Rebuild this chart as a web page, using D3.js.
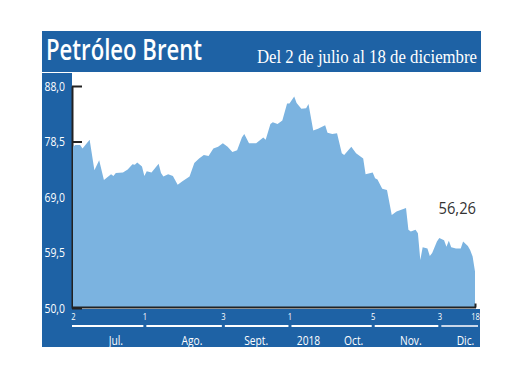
<!DOCTYPE html>
<html>
<head>
<meta charset="utf-8">
<script src="https://cdn.jsdelivr.net/npm/d3@7"></script>
<style>
  body { margin: 0; background: #fff; }
  svg { display: block; }
</style>
</head>
<body>
<div id="chart"></div>
<script>
// Brent daily close
const dates = [
  "2018-07-02","2018-07-03","2018-07-05","2018-07-06","2018-07-09","2018-07-11","2018-07-13","2018-07-15",
  "2018-07-18","2018-07-19","2018-07-20","2018-07-23","2018-07-25","2018-07-27","2018-07-28","2018-07-29",
  "2018-07-31","2018-08-01","2018-08-02","2018-08-04","2018-08-07","2018-08-08","2018-08-09","2018-08-11",
  "2018-08-13","2018-08-15","2018-08-17","2018-08-20","2018-08-22","2018-08-24","2018-08-26","2018-08-28",
  "2018-08-30","2018-09-01","2018-09-03","2018-09-05","2018-09-07","2018-09-09","2018-09-11","2018-09-12",
  "2018-09-14","2018-09-17","2018-09-20","2018-09-21","2018-09-23","2018-09-24","2018-09-26","2018-09-28",
  "2018-09-30","2018-10-01","2018-10-03","2018-10-04","2018-10-06","2018-10-08","2018-10-09","2018-10-11",
  "2018-10-13","2018-10-16","2018-10-17","2018-10-19","2018-10-21","2018-10-23","2018-10-24","2018-10-27",
  "2018-10-29","2018-11-01","2018-11-02","2018-11-05","2018-11-06","2018-11-07","2018-11-09","2018-11-11",
  "2018-11-13","2018-11-15","2018-11-19","2018-11-20","2018-11-21","2018-11-23","2018-11-24","2018-11-25",
  "2018-11-26","2018-11-28","2018-11-29","2018-11-30","2018-12-02","2018-12-03","2018-12-05","2018-12-06",
  "2018-12-07","2018-12-08","2018-12-10","2018-12-12","2018-12-13","2018-12-15","2018-12-16","2018-12-17",
  "2018-12-18"
];
const prices = [
  77.6, 77.9, 77.9, 77.3, 78.8, 73.6, 75.3, 71.9,
  72.9, 72.6, 73.1, 73.2, 73.7, 74.6, 74.5, 74.9,
  74.2, 72.6, 73.4, 73.2, 74.7, 73.1, 72.5, 72.9,
  72.6, 71.1, 71.7, 72.5, 74.8, 75.6, 76.2, 76.0,
  77.3, 77.6, 78.2, 77.6, 76.7, 77.0, 79.2, 79.8,
  78.2, 78.2, 79.2, 78.8, 81.5, 81.8, 81.5, 82.1,
  85.0, 85.0, 86.2, 85.1, 84.1, 84.2, 84.9, 80.4,
  80.7, 81.3, 80.0, 79.8, 79.9, 76.5, 76.2, 77.6,
  76.5, 75.6, 72.9, 73.2, 72.2, 72.0, 70.4, 70.2,
  65.9, 66.5, 67.1, 63.4, 63.1, 63.4, 62.8, 58.2,
  60.4, 60.2, 58.9, 59.4, 61.4, 62.0, 61.6, 60.5,
  61.5, 60.4, 60.2, 60.2, 61.4, 60.6, 59.9, 58.8,
  56.26
];

const yTicks = [50, 59.5, 69, 78.5, 88];
const dayTicks = ["2018-07-02","2018-08-01","2018-09-03","2018-10-01","2018-11-05","2018-12-03","2018-12-18"];
const dayTickLabels = ["2","1","3","1","5","3","18"];
const monthLabels = ["Jul.","Ago.","Sept.","2018","Oct.","Nov.","Dic."];
const monthLabelDates = ["2018-07-20","2018-08-21","2018-09-17","2018-10-09","2018-10-28","2018-11-21","2018-12-14"];
const title = "Petróleo Brent";
const subtitle = "Del 2 de julio al 18 de diciembre";
const lastLabel = "56,26";

const parse = d3.timeParse("%Y-%m-%d");
const data = dates.map((d, i) => ({ date: parse(d), value: prices[i] }));

const W = 520, H = 390;
const margin = { top: 86, right: 45, bottom: 82, left: 73 };
const width = W - margin.left - margin.right;
const height = H - margin.top - margin.bottom;

const frameBlue = "#1e62a5";
const areaBlue = "#7bb3e0";
const sans = "'Open Sans', sans-serif";

// squeeze text horizontally, the original uses a condensed face
function condense(sel, k) {
  sel.each(function () {
    const w = this.getComputedTextLength();
    d3.select(this).attr("textLength", w * k).attr("lengthAdjust", "spacingAndGlyphs");
  });
}

const svg = d3.select("#chart")
  .append("svg")
  .attr("width", W)
  .attr("height", H);

// blue frame: title bar, left column, bottom strip
svg.append("rect").attr("x", 42).attr("y", 31).attr("width", 439).attr("height", 41).attr("fill", frameBlue);
svg.append("rect").attr("x", 42).attr("y", 73).attr("width", 30).attr("height", 274).attr("fill", frameBlue);
svg.append("rect").attr("x", 42).attr("y", 309).attr("width", 438).attr("height", 38).attr("fill", frameBlue);

svg.append("text")
  .attr("x", 46).attr("y", 60)
  .attr("fill", "#fff")
  .style("font-family", sans)
  .style("font-weight", 600)
  .style("font-size", "28px")
  .attr("textLength", 156)
  .attr("lengthAdjust", "spacingAndGlyphs")
  .text(title);

svg.append("text")
  .attr("x", 477).attr("y", 63)
  .attr("text-anchor", "end")
  .attr("fill", "#fff")
  .style("font-family", "'Liberation Serif', serif")
  .style("font-size", "18.5px")
  .attr("textLength", 220)
  .attr("lengthAdjust", "spacingAndGlyphs")
  .text(subtitle);

const g = svg.append("g")
  .attr("transform", `translate(${margin.left},${margin.top})`);

const x = d3.scaleTime()
  .domain([parse(dates[0]), parse(dates[dates.length - 1])])
  .range([0, width]);

const y = d3.scaleLinear()
  .domain([50, 88])
  .range([height, 0]);

// y axis (ticks point inward, area covers the lower ones)
const yAxis = g.append("g")
  .attr("transform", "translate(-1,0)")
  .call(d3.axisLeft(y)
    .tickValues(yTicks)
    .tickSizeInner(-10)
    .tickSizeOuter(0)
    .tickPadding(7)
    .tickFormat(d => d.toFixed(1).replace(".", ",")));
yAxis.select(".domain").attr("stroke", "#222").attr("stroke-width", 2);
yAxis.selectAll(".tick line").attr("stroke", "#222").attr("stroke-width", 2);
yAxis.selectAll(".tick text")
  .attr("fill", "#fff")
  .style("font-family", sans)
  .style("font-size", "13px")
  .call(condense, 0.8);

// area
g.append("path")
  .datum(data)
  .attr("fill", areaBlue)
  .attr("d", d3.area()
    .x(d => x(d.date))
    .y0(y(50))
    .y1(d => y(d.value)));

// x axis line with the small end tick
const xAxis = g.append("g")
  .attr("transform", `translate(0,${height - 0.5})`)
  .call(d3.axisBottom(x)
    .tickValues([parse(dates[dates.length - 1])])
    .tickSizeInner(-4)
    .tickSizeOuter(0)
    .tickFormat(""));
xAxis.select(".domain").attr("stroke", "#222").attr("stroke-width", 2)
  .attr("d", `M-1,0H${width + 1}`);
xAxis.selectAll(".tick line").attr("stroke", "#222").attr("stroke-width", 2);

// day labels in the bottom strip
const dayAxis = g.append("g")
  .attr("transform", `translate(0,${height + 5})`)
  .call(d3.axisBottom(x)
    .tickValues(dayTicks.map(parse))
    .tickSize(0)
    .tickPadding(0)
    .tickFormat((d, i) => dayTickLabels[i]));
dayAxis.select(".domain").remove();
dayAxis.selectAll(".tick text")
  .attr("fill", "#fff")
  .style("font-family", sans)
  .style("font-size", "9.5px")
  .call(condense, 0.8);

// month underline segments
const tickDates = dayTicks.map(parse);
g.selectAll(".seg")
  .data(d3.pairs(tickDates))
  .join("line")
  .attr("class", "seg")
  .attr("x1", (d, i) => x(d[0]) + (i === 0 ? -1 : 2))
  .attr("x2", (d, i) => x(d[1]) - (i === tickDates.length - 2 ? -3 : 1))
  .attr("y1", height + 18)
  .attr("y2", height + 18)
  .attr("stroke", (d, i) => i === tickDates.length - 2 ? "#c9d7ea" : "#fff")
  .attr("stroke-width", 1.8);

g.selectAll(".month")
  .data(monthLabels)
  .join("text")
  .attr("class", "month")
  .attr("x", (d, i) => x(parse(monthLabelDates[i])))
  .attr("y", height + 37)
  .attr("text-anchor", "middle")
  .attr("fill", "#fff")
  .style("font-family", sans)
  .style("font-size", "12.5px")
  .text(d => d)
  .call(condense, 0.82);

// last value label
const last = data[data.length - 1];
g.append("text")
  .attr("x", x(last.date) + 1)
  .attr("y", y(last.value) - 57)
  .attr("text-anchor", "end")
  .attr("fill", "#333")
  .style("font-family", sans)
  .style("font-size", "15.5px")
  .text(lastLabel)
  .call(condense, 0.95);
</script>
</body>
</html>
